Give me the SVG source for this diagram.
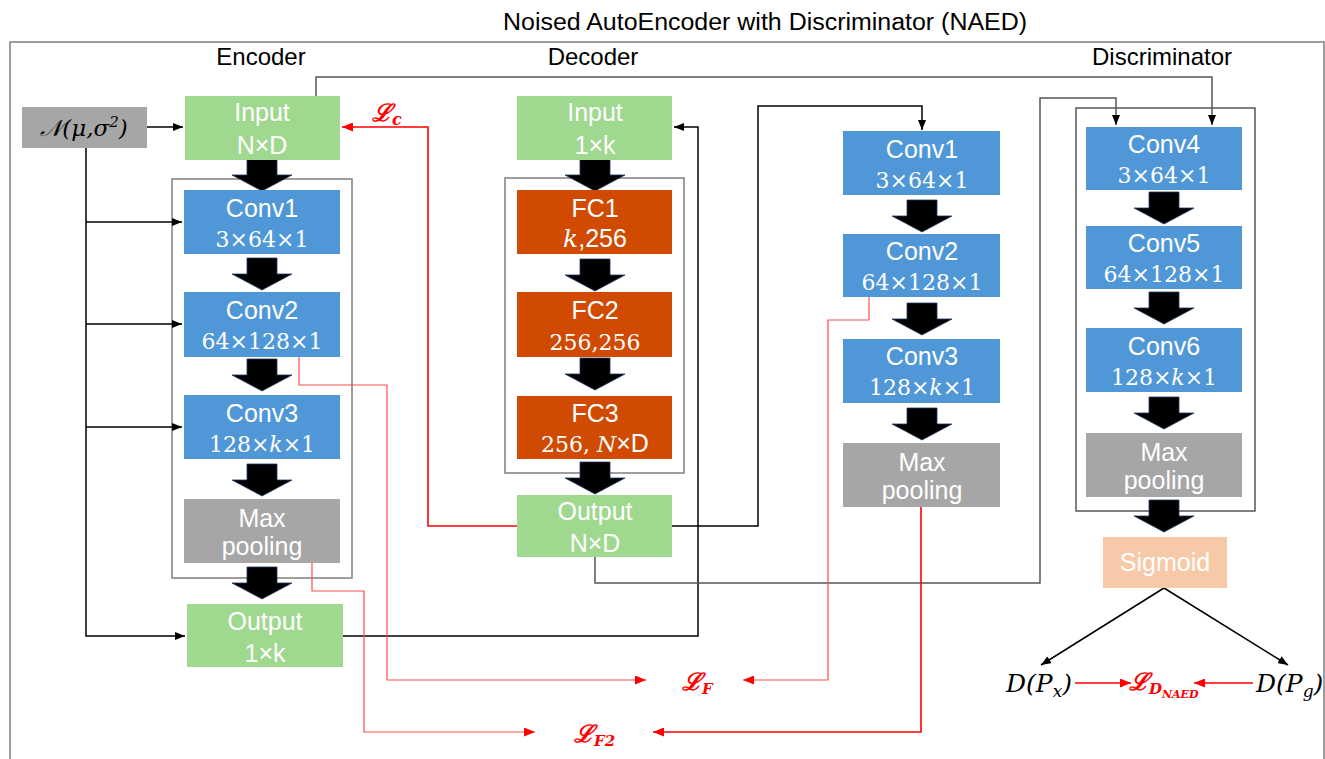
<svg xmlns="http://www.w3.org/2000/svg" width="1325" height="759" viewBox="0 0 1325 759">
<style>
.lbl{font-family:"Liberation Sans","Noto Sans",sans-serif;font-size:24px;fill:#000;text-anchor:middle}
.bt{font-family:"Liberation Sans","Noto Sans",sans-serif;font-size:25px;fill:#fff;text-anchor:middle}
.bm{font-family:"DejaVu Serif","Liberation Serif",serif;font-size:22px;fill:#fff;text-anchor:middle}
.it{font-style:italic}
.green{fill:#9fd88f}
.blue{fill:#4f97d6}
.orange{fill:#d04a02}
.gray{fill:#a6a6a6}
.peach{fill:#f8c9a8}
.frame{fill:none;stroke:#7f7f7f;stroke-width:1.5}
.k{fill:none;stroke:#000;stroke-width:1.5}
.kg{fill:none;stroke:#555;stroke-width:1.5}
.r{fill:none;stroke:#ff0000;stroke-width:1.6}
.rl{fill:none;stroke:#ff4d4d;stroke-width:1.2}
.math{font-family:"DejaVu Serif","Liberation Serif",serif;font-style:italic}
.red{fill:#ff0000}
</style>
<defs>
<marker id="ah" markerUnits="userSpaceOnUse" markerWidth="10" markerHeight="8" refX="10" refY="4" orient="auto"><path d="M0,0 L10,4 L0,8 Z" fill="#000"/></marker>
<marker id="ahr" markerUnits="userSpaceOnUse" markerWidth="11" markerHeight="9" refX="11" refY="4.5" orient="auto"><path d="M0,0 L11,4.5 L0,9 Z" fill="#ff0000"/></marker>
<path id="blk" d="M-15,0 H15 V16 H30 L0,32 L-30,16 H-15 Z" fill="#000" stroke="#1f3864" stroke-width="0.8"/>
</defs>

<text x="765" y="30" class="lbl" style="font-size:23px" textLength="524" lengthAdjust="spacingAndGlyphs">Noised AutoEncoder with Discriminator (NAED)</text>
<rect x="10" y="42" width="1314" height="740" class="frame"/>
<text x="261" y="65" class="lbl">Encoder</text>
<text x="593" y="65" class="lbl">Decoder</text>
<text x="1162" y="65" class="lbl">Discriminator</text>

<!-- group frames -->
<rect x="172" y="179" width="180" height="399" class="frame"/>
<rect x="505" y="178" width="179" height="295" class="frame"/>
<rect x="1076" y="108" width="179" height="403" class="frame" style="stroke:#555"/>

<!-- connectors -->
<g id="connectors">
<path class="k" d="M147,127 H183" marker-end="url(#ah)"/>
<path class="k" d="M86,148 V636 H185" marker-end="url(#ah)"/>
<path class="k" d="M86,222 H182" marker-end="url(#ah)"/>
<path class="k" d="M86,324 H182" marker-end="url(#ah)"/>
<path class="k" d="M86,427 H182" marker-end="url(#ah)"/>
<path class="k" d="M343,636 H698 V127 H674" marker-end="url(#ah)"/>
<path class="k" d="M672,526 H758 V106 H922 V130" marker-end="url(#ah)"/>
<path class="kg" d="M595,557 V583 H1040 V98 H1116 V125" marker-end="url(#ah)"/>
<path class="kg" d="M316,96 V77 H1212 V125" marker-end="url(#ah)"/>
<path class="k" d="M1164,588 L1041,665" marker-end="url(#ah)"/>
<path class="k" d="M1164,588 L1288,665" marker-end="url(#ah)"/>
<path class="r" d="M517,526 H428 V127 H342" marker-end="url(#ahr)"/>
<path class="rl" d="M299,357 V385 H387 V680 H646" marker-end="url(#ahr)"/>
<path class="rl" d="M869,297 V320 H828 V680 H743" marker-end="url(#ahr)"/>
<path class="rl" d="M312,563 V591 H364 V732 H535" marker-end="url(#ahr)"/>
<path class="r" d="M921,507 V732 H653" marker-end="url(#ahr)"/>
<path class="r" d="M1075,683 H1131" marker-end="url(#ahr)"/>
<path class="r" d="M1253,683 H1194" marker-end="url(#ahr)"/>
<!-- thick flow arrows -->
<use href="#blk" x="262" y="159"/>
<use href="#blk" x="262" y="258"/>
<use href="#blk" x="262" y="359"/>
<use href="#blk" x="262" y="464"/>
<use href="#blk" x="262" y="567"/>
<use href="#blk" x="595" y="159"/>
<use href="#blk" x="595" y="259"/>
<use href="#blk" x="595" y="358"/>
<use href="#blk" x="595" y="462"/>
<use href="#blk" x="922" y="200"/>
<use href="#blk" x="922" y="303"/>
<use href="#blk" x="922" y="408"/>
<use href="#blk" x="1164" y="192"/>
<use href="#blk" x="1164" y="292"/>
<use href="#blk" x="1164" y="397"/>
<use href="#blk" x="1164" y="500"/>
</g>

<!-- noise source -->
<g id="noise">
<rect x="22" y="107" width="125" height="41" class="gray"/>
<text x="84" y="136" class="math" font-size="23" text-anchor="middle">𝒩(μ,σ<tspan font-size="15" dy="-9">2</tspan><tspan dy="9">)</tspan></text>
</g>

<!-- Encoder -->
<g id="enc-input"><rect x="185" y="96" width="155" height="64" class="green"/><text x="262" y="121" class="bt">Input</text><text x="262" y="154" class="bt">N×D</text></g>
<g id="enc-conv1"><rect x="184" y="190" width="156" height="64" class="blue"/><text x="262" y="217" class="bt">Conv1</text><text x="262" y="247" class="bm">3×64×1</text></g>
<g id="enc-conv2"><rect x="184" y="292" width="156" height="65" class="blue"/><text x="262" y="319" class="bt">Conv2</text><text x="262" y="349" class="bm">64×128×1</text></g>
<g id="enc-conv3"><rect x="184" y="395" width="156" height="64" class="blue"/><text x="262" y="422" class="bt">Conv3</text><text x="262" y="452" class="bm">128×<tspan class="it">k</tspan>×1</text></g>
<g id="enc-pool"><rect x="184" y="499" width="156" height="64" class="gray"/><text x="262" y="527" class="bt">Max</text><text x="262" y="555" class="bt">pooling</text></g>
<g id="enc-output"><rect x="187" y="604" width="156" height="63" class="green"/><text x="265" y="630" class="bt">Output</text><text x="265" y="662" class="bt">1×k</text></g>

<!-- Decoder -->
<g id="dec-input"><rect x="517" y="96" width="155" height="64" class="green"/><text x="595" y="121" class="bt">Input</text><text x="595" y="154" class="bt">1×k</text></g>
<g id="dec-fc1"><rect x="517" y="190" width="155" height="64" class="orange"/><text x="595" y="217" class="bt">FC1</text><text x="595" y="247" class="bt"><tspan class="math" font-family="DejaVu Serif">k</tspan>,256</text></g>
<g id="dec-fc2"><rect x="517" y="292" width="155" height="65" class="orange"/><text x="595" y="319" class="bt">FC2</text><text x="595" y="350" class="bm">256,256</text></g>
<g id="dec-fc3"><rect x="517" y="396" width="155" height="63" class="orange"/><text x="595" y="422" class="bt">FC3</text><text x="595" y="452" class="bt"><tspan font-family="DejaVu Serif" font-size="22">256,</tspan> <tspan class="math" font-family="DejaVu Serif" font-size="22">N</tspan>×D</text></g>
<g id="dec-output"><rect x="517" y="495" width="155" height="62" class="green"/><text x="595" y="520" class="bt">Output</text><text x="595" y="552" class="bt">N×D</text></g>

<!-- Discriminator branch 1 -->
<g id="d-conv1"><rect x="843" y="131" width="157" height="64" class="blue"/><text x="922" y="158" class="bt">Conv1</text><text x="922" y="188" class="bm">3×64×1</text></g>
<g id="d-conv2"><rect x="843" y="234" width="157" height="63" class="blue"/><text x="922" y="260" class="bt">Conv2</text><text x="922" y="290" class="bm">64×128×1</text></g>
<g id="d-conv3"><rect x="843" y="339" width="157" height="64" class="blue"/><text x="922" y="365" class="bt">Conv3</text><text x="922" y="395" class="bm">128×<tspan class="it">k</tspan>×1</text></g>
<g id="d-pool1"><rect x="843" y="443" width="157" height="64" class="gray"/><text x="922" y="471" class="bt">Max</text><text x="922" y="499" class="bt">pooling</text></g>

<!-- Discriminator branch 2 -->
<g id="d-conv4"><rect x="1086" y="127" width="156" height="63" class="blue"/><text x="1164" y="153" class="bt">Conv4</text><text x="1164" y="183" class="bm">3×64×1</text></g>
<g id="d-conv5"><rect x="1086" y="226" width="156" height="63" class="blue"/><text x="1164" y="252" class="bt">Conv5</text><text x="1164" y="282" class="bm">64×128×1</text></g>
<g id="d-conv6"><rect x="1086" y="328" width="156" height="64" class="blue"/><text x="1164" y="355" class="bt">Conv6</text><text x="1164" y="385" class="bm">128×<tspan class="it">k</tspan>×1</text></g>
<g id="d-pool2"><rect x="1086" y="433" width="156" height="64" class="gray"/><text x="1164" y="461" class="bt">Max</text><text x="1164" y="489" class="bt">pooling</text></g>
<g id="d-sigmoid"><rect x="1103" y="537" width="124" height="51" class="peach"/><text x="1165" y="571" class="bt">Sigmoid</text></g>

<!-- outputs / losses -->
<g id="dpx"><text x="1006" y="692" class="math" font-size="25" font-family="Liberation Serif">D(P<tspan font-size="17" dy="5">x</tspan><tspan dy="-5">)</tspan></text></g>
<g id="dpg"><text x="1256" y="692" class="math" font-size="25" font-family="Liberation Serif">D(P<tspan font-size="17" dy="5">g</tspan><tspan dy="-5">)</tspan></text></g>
<g id="loss-c"><text x="372" y="121" class="math red" font-size="24" font-weight="bold">ℒ<tspan font-size="16" dy="4">c</tspan></text></g>
<g id="loss-f"><text x="682" y="690" class="math red" font-size="24" font-weight="bold">ℒ<tspan font-size="15" dy="4">F</tspan></text></g>
<g id="loss-f2"><text x="574" y="742" class="math red" font-size="24" font-weight="bold">ℒ<tspan font-size="15" dy="4">F2</tspan></text></g>
<g id="loss-d"><text x="1129" y="690" class="math red" font-size="24" font-weight="bold">ℒ<tspan font-size="15" dy="4">D</tspan><tspan font-size="11" dy="4">NAED</tspan></text></g>
</svg>
